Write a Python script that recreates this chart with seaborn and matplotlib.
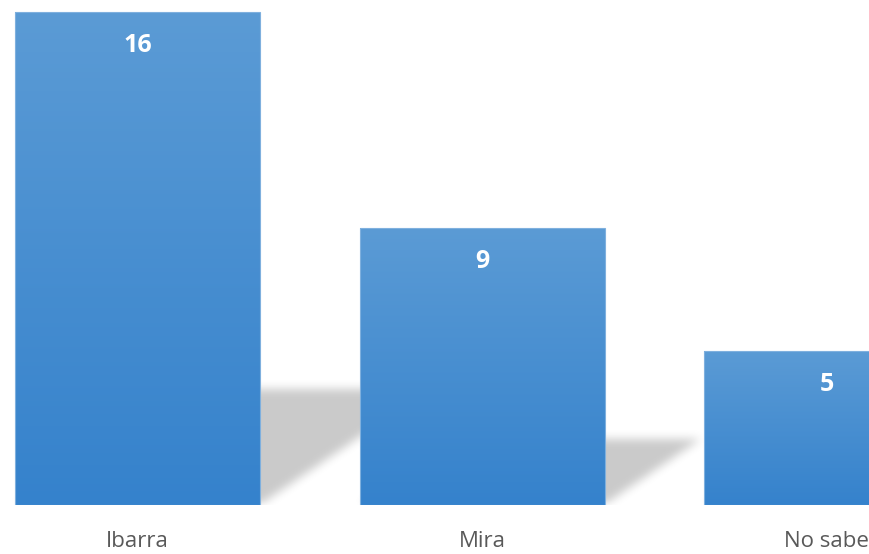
import numpy as np
import pandas as pd
import seaborn as sns
import matplotlib
matplotlib.use("Agg")
from matplotlib import pyplot as plt
from matplotlib.path import Path
from matplotlib.colors import LinearSegmentedColormap

# data
categories = ["Ibarra", "Mira", "No sabe"]
counts = [16, 9, 5]

df = pd.DataFrame({"Lugar": categories, "Cantidad": counts})

sns.set_style("white")
plt.rcParams["font.family"] = ["Open Sans", "DejaVu Sans"]

fig = plt.figure(figsize=(8.69, 5.54), dpi=100)
ax = fig.add_axes([0, 49 / 554, 1, 505 / 554])

sns.barplot(data=df, x="Lugar", y="Cantidad", width=0.711, ax=ax,
            color="#4A8FD2", edgecolor="#7FB0DE", linewidth=0.8, zorder=3)

xlim = (-0.399, 2.123)
ylim = (0, 16.396)
ax.set_xlim(*xlim)
ax.set_ylim(*ylim)

# vertical gradient inside each bar
cmap = LinearSegmentedColormap.from_list("blu", ["#3582CC", "#5B9BD5"])
grad = np.linspace(0, 1, 256).reshape(-1, 1)
for p in ax.patches:
    x0, y0 = p.get_x(), p.get_y()
    w, h = p.get_width(), p.get_height()
    p.set_facecolor("none")
    im = ax.imshow(grad, cmap=cmap, origin="lower", aspect="auto",
                   extent=[x0, x0 + w, y0, y0 + h], zorder=2.5)
    im.set_clip_path(p)

# soft perspective shadow behind each bar
nx, ny = 869, 505
xs = np.linspace(xlim[0], xlim[1], nx)
ys = np.linspace(ylim[0], ylim[1], ny)
gx, gy = np.meshgrid(xs, ys)
pts = np.column_stack([gx.ravel(), gy.ravel()])
mask = np.zeros(nx * ny)
for p, v in zip(ax.patches, counts):
    x0 = p.get_x()
    x1 = x0 + p.get_width()
    sh = 0.235 * v
    dx = 0.0309 * v
    poly = Path([(x0, 0), (x1, 0), (x1 + dx, sh), (x0 + dx, sh), (x0, 0)])
    mask = np.maximum(mask, poly.contains_points(pts).astype(float))
mask = mask.reshape(ny, nx)


def box_blur(a, r, axis):
    k = np.ones(2 * r + 1) / (2 * r + 1)
    return np.apply_along_axis(lambda m: np.convolve(m, k, mode="same"), axis, a)


for _ in range(3):
    mask = box_blur(mask, 4, 0)
    mask = box_blur(mask, 4, 1)

shadow = np.zeros((ny, nx, 4))
shadow[..., 3] = mask * 0.21
ax.imshow(shadow, origin="lower", aspect="auto",
          extent=[xlim[0], xlim[1], ylim[0], ylim[1]], zorder=1)

# value labels
for p, v in zip(ax.patches, counts):
    cx = p.get_x() + p.get_width() / 2
    ax.annotate(str(v), (cx, v), xytext=(0, -24), textcoords="offset points",
                ha="center", va="center", color="white", fontsize=18,
                fontweight="bold")

ax.set_xlabel("")
ax.set_ylabel("")
ax.set_yticks([])
ax.tick_params(axis="x", length=0, pad=19, labelsize=16, labelcolor="#595959")
sns.despine(ax=ax, left=True, bottom=True)

fig.savefig("out.png", dpi=100, facecolor="white")
